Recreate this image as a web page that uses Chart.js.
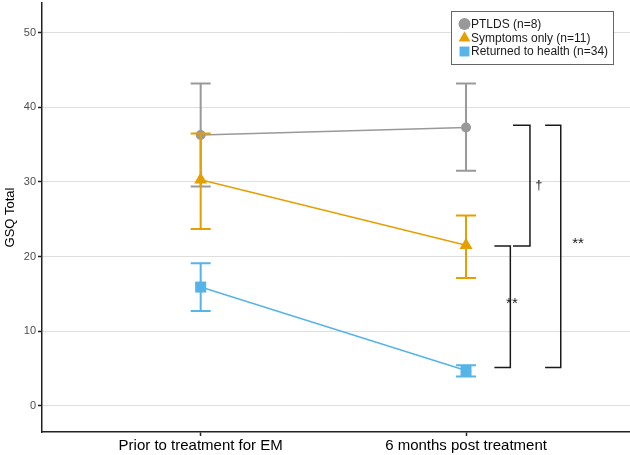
<!DOCTYPE html>
<html>
<head>
<meta charset="utf-8">
<script src="https://cdn.jsdelivr.net/npm/chart.js@4.4.1/dist/chart.umd.min.js"></script>
<style>
  body { margin: 0; background: #fff; }
</style>
</head>
<body>
<canvas id="chart" width="630" height="455"></canvas>
<script>
const timeLabels = ['Prior to treatment for EM', '6 months post treatment'];
const timePos = [1, 2];
const groupNames = ['PTLDS (n=8)', 'Symptoms only (n=11)', 'Returned to health (n=34)'];

const ptldsMean = [36.3, 37.3];
const ptldsLow = [29.4, 31.5];
const ptldsHigh = [43.2, 43.2];

const sympMean = [30.3, 21.5];
const sympLow = [23.7, 17.1];
const sympHigh = [36.5, 25.5];

const healthMean = [15.9, 4.7];
const healthLow = [12.7, 3.9];
const healthHigh = [19.1, 5.4];

const yTicks = [0, 10, 20, 30, 40, 50];

// significance brackets
const bracketArmX = [2.177, 2.107, 2.298];
const bracketSpineX = [2.241, 2.167, 2.357];
const bracketTop = [37.6, 21.4, 37.6];
const bracketBottom = [21.4, 5.1, 5.1];
const bracketLabels = ['\u2020', '**', '**'];
const bracketLabelX = [2.275, 2.173, 2.422];

const colors = ['#999999', '#E69F00', '#56B4E9'];
const markers = ['circle', 'triangle', 'rect'];
const markerSize = [5, 7.5, 7.8];
const means = [ptldsMean, sympMean, healthMean];
const lows = [ptldsLow, sympLow, healthLow];
const highs = [ptldsHigh, sympHigh, healthHigh];

const FONT = "'Liberation Sans', Arial, sans-serif";

// markers shouldn't push the plot area inwards
Chart.ScatterController.prototype.getMaxOverflow = function () { return 0; };

const errorBars = {
  id: 'errorBars',
  afterDatasetsDraw(chart) {
    const ctx = chart.ctx;
    const xs = chart.scales.x, ys = chart.scales.y;
    ctx.save();
    ctx.lineWidth = 2;
    means.forEach((m, i) => {
      ctx.strokeStyle = colors[i];
      timePos.forEach((t, j) => {
        const x = xs.getPixelForValue(t);
        const lo = ys.getPixelForValue(lows[i][j]);
        const hi = ys.getPixelForValue(highs[i][j]);
        ctx.beginPath();
        ctx.moveTo(x, lo); ctx.lineTo(x, hi);
        ctx.moveTo(x - 10, lo); ctx.lineTo(x + 10, lo);
        ctx.moveTo(x - 10, hi); ctx.lineTo(x + 10, hi);
        ctx.stroke();
      });
    });
    ctx.restore();
  }
};

const sigBrackets = {
  id: 'sigBrackets',
  afterDraw(chart) {
    const ctx = chart.ctx;
    const xs = chart.scales.x, ys = chart.scales.y;
    ctx.save();
    ctx.strokeStyle = '#1a1a1a';
    ctx.lineWidth = 1.5;
    ctx.fillStyle = '#1a1a1a';
    ctx.textAlign = 'center';
    ctx.textBaseline = 'middle';
    bracketLabels.forEach((lab, i) => {
      const xa = xs.getPixelForValue(bracketArmX[i]);
      const xsp = xs.getPixelForValue(bracketSpineX[i]);
      const yt = ys.getPixelForValue(bracketTop[i]);
      const yb = ys.getPixelForValue(bracketBottom[i]);
      ctx.beginPath();
      ctx.moveTo(xa, yt); ctx.lineTo(xsp, yt); ctx.lineTo(xsp, yb); ctx.lineTo(xa, yb);
      ctx.stroke();
      const ym = (yt + yb) / 2;
      if (lab === '**') {
        ctx.font = '15px ' + FONT;
        ctx.fillText(lab, xs.getPixelForValue(bracketLabelX[i]), ym - 2.5);
      } else {
        ctx.font = '13px ' + FONT;
        ctx.fillText(lab, xs.getPixelForValue(bracketLabelX[i]), ym);
      }
    });
    ctx.restore();
  }
};

const boxLegend = {
  id: 'boxLegend',
  afterDraw(chart) {
    const ctx = chart.ctx;
    ctx.save();
    ctx.fillStyle = '#fff';
    ctx.fillRect(451, 11, 162, 53);
    ctx.strokeStyle = '#666';
    ctx.lineWidth = 1;
    ctx.strokeRect(451.5, 11.5, 162, 53);
    const rows = [24, 38, 51.5];
    const legendSize = [6, 6.8, 7];
    ctx.font = '12px ' + FONT;
    ctx.textBaseline = 'middle';
    groupNames.forEach((name, i) => {
      ctx.fillStyle = colors[i];
      ctx.strokeStyle = colors[i];
      Chart.helpers.drawPoint(ctx, { pointStyle: markers[i], radius: legendSize[i], borderWidth: 0 }, 464.5, rows[i]);
      ctx.fillStyle = '#1a1a1a';
      ctx.fillText(name, 471, rows[i] + 0.5);
    });
    ctx.restore();
  }
};

new Chart(document.getElementById('chart'), {
  type: 'scatter',
  data: {
    datasets: groupNames.map((name, i) => ({
      label: name,
      data: timePos.map((t, j) => ({ x: t, y: means[i][j] })),
      showLine: true,
      borderColor: colors[i],
      backgroundColor: colors[i],
      borderWidth: 1.5,
      pointStyle: markers[i],
      pointRadius: markerSize[i],
      pointBorderWidth: 0,
      pointBackgroundColor: colors[i],
      clip: false
    }))
  },
  options: {
    responsive: false,
    animation: false,
    devicePixelRatio: 1,
    layout: { padding: { top: 3, left: 0, right: 0, bottom: 0 } },
    plugins: {
      legend: { display: false },
      tooltip: { enabled: false }
    },
    scales: {
      x: {
        type: 'linear',
        min: 0.402,
        max: 2.618,
        afterBuildTicks: axis => { axis.ticks = timePos.map(v => ({ value: v })); },
        afterFit: s => { s.height = 23; s.paddingLeft = 0; s.paddingRight = 0; },
        ticks: {
          autoSkip: false,
          maxRotation: 0,
          padding: 1,
          color: '#000',
          font: { family: FONT, size: 15 },
          callback: v => timeLabels[timePos.indexOf(v)]
        },
        grid: {
          drawOnChartArea: false,
          drawTicks: true,
          tickLength: 4,
          tickColor: '#222',
          tickWidth: 1.5
        },
        border: { color: '#222', width: 1.5 }
      },
      y: {
        min: -3.54,
        max: 54,
        afterBuildTicks: axis => { axis.ticks = yTicks.map(v => ({ value: v })); },
        afterFit: s => { s.width = 42; s.paddingTop = 0; s.paddingBottom = 0; },
        ticks: {
          padding: 2,
          color: '#4d4d4d',
          font: { family: FONT, size: 11 }
        },
        grid: {
          color: '#dedede',
          lineWidth: 1,
          tickLength: 4,
          tickColor: '#222',
          tickWidth: 1.5
        },
        border: { color: '#222', width: 1.5 },
        title: {
          display: true,
          text: 'GSQ Total',
          color: '#000',
          font: { family: FONT, size: 13 },
          padding: { top: 3, bottom: 0 }
        }
      }
    }
  },
  plugins: [errorBars, sigBrackets, boxLegend]
});
</script>
</body>
</html>
